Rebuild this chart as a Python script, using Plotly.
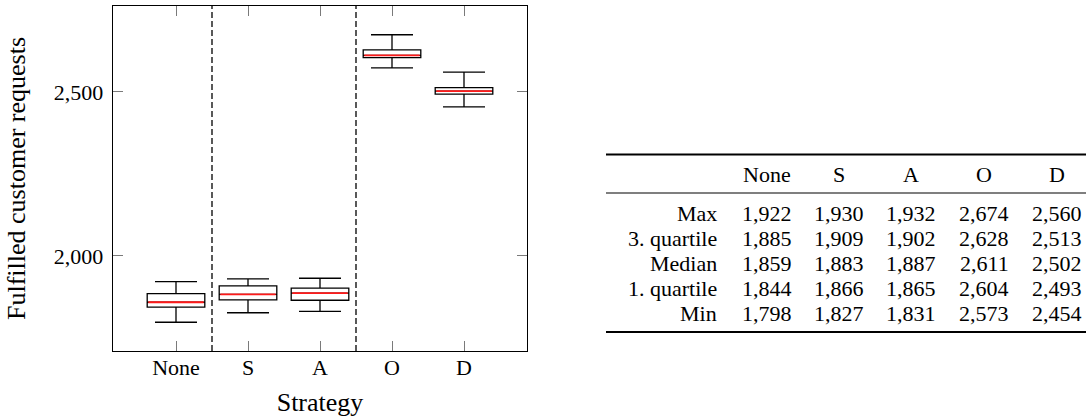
import plotly.graph_objects as go

# ---- data ----
strategies = ["None", "S", "A", "O", "D"]
maxima = [1922, 1930, 1932, 2674, 2560]
q3_vals = [1885, 1909, 1902, 2628, 2513]
medians = [1859, 1883, 1887, 2611, 2502]
q1_vals = [1844, 1866, 1865, 2604, 2493]
minima = [1798, 1827, 1831, 2573, 2454]
groups = [["None"], ["S", "A"], ["O", "D"]]
row_labels = ["Max", "3. quartile", "Median", "1. quartile", "Min"]
y_ticks = [2000, 2500]

FONT = "Liberation Serif"
W, H = 1086, 419
ML, MR, MT, MB = 113, 0, 6, 68
PW = W - ML - MR
PH = H - MT - MB
PLOT_RIGHT = 527


def px_x(p):
    return (p - ML) / PW


def px_y(p):
    return (H - MB - p) / PH


fig = go.Figure()

# boxes
fig.add_trace(go.Box(
    x=strategies, q1=q1_vals, median=medians, q3=q3_vals,
    lowerfence=minima, upperfence=maxima,
    width=0.8, whiskerwidth=0.73,
    fillcolor="white", line=dict(color="black", width=1.3),
    boxpoints=False, showlegend=False, hoverinfo="skip",
))
# red median lines
fig.add_trace(go.Box(
    x=strategies, q1=medians, median=medians, q3=medians,
    lowerfence=medians, upperfence=medians,
    width=0.8 - 0.03, whiskerwidth=0,
    fillcolor="rgba(0,0,0,0)", line=dict(color="#ff1a1a", width=1.8),
    boxpoints=False, showlegend=False, hoverinfo="skip",
))

# dashed separators between groups
shapes = []
idx = 0
for g in groups[:-1]:
    idx += len(g)
    shapes.append(dict(type="line", xref="x", yref="y domain",
                       x0=idx - 0.5, x1=idx - 0.5, y0=0, y1=1,
                       line=dict(color="black", width=1.3, dash="6px,3px")))

# table rules
tab_left = px_x(606)
tab_right = 1.0
for ypix, lw in [(154.5, 2.0), (193, 1.2), (332, 2.0)]:
    shapes.append(dict(type="line", xref="paper", yref="paper",
                       x0=tab_left, x1=tab_right, y0=px_y(ypix), y1=px_y(ypix),
                       line=dict(color="black", width=lw)))

annotations = []
col_centers = [767, 839, 911, 984, 1057]
header_y = 174
row_y0, row_dy = 213, 25
for s, cx in zip(strategies, col_centers):
    annotations.append(dict(text=s, x=px_x(cx), y=px_y(header_y), xref="paper", yref="paper",
                            xanchor="center", yanchor="middle", showarrow=False,
                            font=dict(family=FONT, size=22, color="black")))
stats = [maxima, q3_vals, medians, q1_vals, minima]
for r, (lab, vals) in enumerate(zip(row_labels, stats)):
    yy = px_y(row_y0 + r * row_dy)
    annotations.append(dict(text=lab, x=px_x(719), y=yy, xref="paper", yref="paper",
                            xanchor="right", yanchor="middle", showarrow=False,
                            font=dict(family=FONT, size=22, color="black")))
    for v, cx in zip(vals, col_centers):
        annotations.append(dict(text=f"{v:,}", x=px_x(cx), y=yy, xref="paper", yref="paper",
                                xanchor="center", yanchor="middle", showarrow=False,
                                font=dict(family=FONT, size=22, color="black")))

lo = min(minima)
hi = max(maxima)
pad = 0.1 * (hi - lo)

fig.update_layout(
    width=W, height=H,
    margin=dict(l=ML, r=MR, t=MT, b=MB, pad=0, autoexpand=False),
    paper_bgcolor="white", plot_bgcolor="white",
    boxmode="overlay",
    font=dict(family=FONT, size=22, color="black"),
    shapes=shapes, annotations=annotations,
    xaxis=dict(
        domain=[0, (PLOT_RIGHT - ML) / PW],
        type="category", categoryorder="array", categoryarray=strategies,
        range=[-0.875, len(strategies) - 1 + 0.875],
        showline=True, linecolor="black", linewidth=1.3, mirror="ticks",
        ticks="inside", ticklen=10, tickcolor="#7a7a7a", tickwidth=1,
        showgrid=False, zeroline=False,
        tickfont=dict(family=FONT, size=22),
        ticklabelstandoff=-4,
        title=dict(text="Strategy", font=dict(family=FONT, size=26), standoff=14),
        automargin=False,
    ),
    yaxis=dict(
        range=[lo - pad, hi + pad],
        tickvals=y_ticks, tickformat=",d",
        showline=True, linecolor="black", linewidth=1.3, mirror="ticks",
        ticks="inside", ticklen=10, tickcolor="#7a7a7a", tickwidth=1,
        showgrid=False, zeroline=False,
        tickfont=dict(family=FONT, size=22),
        ticklabelstandoff=4,
        title=dict(text="Fulfilled customer requests", font=dict(family=FONT, size=26), standoff=20),
        automargin=False,
    ),
)

fig.write_html(
    "out.html",
    config={"displayModeBar": False, "staticPlot": True},
    post_script="document.body.style.margin='0';document.body.style.overflow='hidden';",
)
